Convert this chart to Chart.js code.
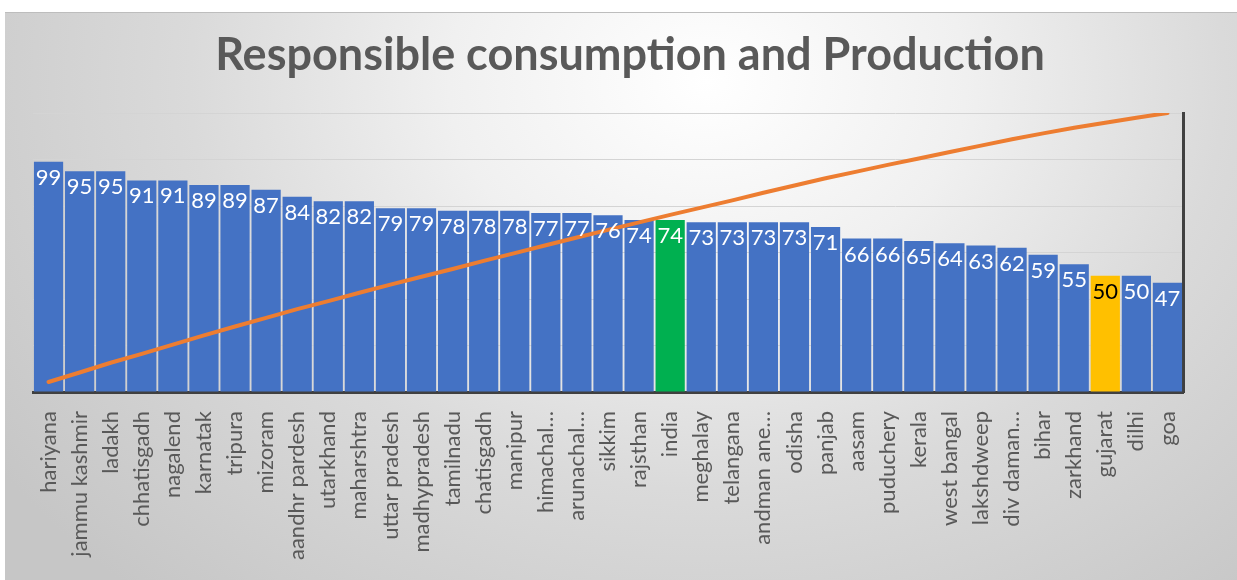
<!DOCTYPE html>
<html>
<head>
<meta charset="utf-8">
<script src="https://cdn.jsdelivr.net/npm/chart.js@4.4.1/dist/chart.umd.min.js"></script>
<style>
  html, body { margin: 0; padding: 0; background: #ffffff; width: 1237px; height: 580px; overflow: hidden; }
  #wrap {
    position: absolute; left: 5px; top: 12px; width: 1232px; height: 568px;
    border-top: 1px solid #bdbdbd;
    background: radial-gradient(ellipse 70% 120% at 57% 12%, #ffffff 0%, #f0f0f0 30%, #dadada 60%, #c6c6c6 100%);
  }
  canvas { display: block; }
</style>
</head>
<body>
<div id="wrap"><canvas id="c"></canvas></div>
<script>
const categories = [
  "hariyana", "jammu kashmir", "ladakh", "chhatisgadh", "nagalend", "karnatak", "tripura",
  "mizoram", "aandhr pardesh", "utarkhand", "maharshtra", "uttar pradesh", "madhypradesh",
  "tamilnadu", "chatisgadh", "manipur", "himachal…", "arunachal…", "sikkim", "rajsthan",
  "india", "meghalay", "telangana", "andman ane…", "odisha", "panjab", "aasam", "puduchery",
  "kerala", "west bangal", "lakshdweep", "div daman…", "bihar", "zarkhand", "gujarat",
  "dilhi", "goa"
];
const scores = [
  99, 95, 95, 91, 91, 89, 89, 87, 84, 82, 82, 79, 79, 78, 78, 78, 77, 77, 76, 74,
  74, 73, 73, 73, 73, 71, 66, 66, 65, 64, 63, 62, 59, 55, 50, 50, 47
];
const cumulativePct = [
  3.6, 7.0, 10.5, 13.7, 17.0, 20.3, 23.5, 26.6, 29.7, 32.6, 35.6, 38.5, 41.3, 44.1,
  47.0, 49.8, 52.6, 55.4, 58.1, 60.8, 63.5, 66.1, 68.7, 71.4, 74.0, 76.6, 79.0, 81.4,
  83.7, 86.0, 88.3, 90.6, 92.7, 94.7, 96.5, 98.3, 100
];
const yTicks = [0, 20, 40, 60, 80, 100, 120];

const BLUE = '#4472C4', GREEN = '#00B050', GOLD = '#FFC000';
const highlight = { "india": GREEN, "gujarat": GOLD };
const barColors = categories.map(c => highlight[c] || BLUE);

const FONT = "Lato, 'Open Sans', sans-serif";

const valueLabels = {
  id: 'valueLabels',
  afterDatasetsDraw(chart) {
    const idx = chart.data.datasets.findIndex(d => d.type === 'bar');
    const meta = chart.getDatasetMeta(idx);
    const ctx = chart.ctx;
    ctx.save();
    ctx.font = "22px " + FONT;
    ctx.textAlign = 'center';
    ctx.textBaseline = 'alphabetic';
    meta.data.forEach((bar, i) => {
      ctx.fillStyle = categories[i] === 'gujarat' ? '#000000' : '#ffffff';
      ctx.fillText(String(scores[i]), bar.x, bar.y + 23);
    });
    ctx.restore();
  }
};

new Chart(document.getElementById('c'), {
  data: {
    labels: categories,
    datasets: [
      {
        type: 'line',
        label: 'cumulative',
        data: cumulativePct,
        yAxisID: 'y1',
        borderColor: '#ED7D31',
        borderWidth: 4,
        pointRadius: 0,
        tension: 0,
        borderCapStyle: 'round',
        borderJoinStyle: 'round',
        order: 0
      },
      {
        type: 'bar',
        label: 'score',
        data: scores,
        yAxisID: 'y',
        backgroundColor: barColors,
        borderWidth: 0,
        barPercentage: 0.94,
        categoryPercentage: 1.0,
        order: 1
      }
    ]
  },
  options: {
    responsive: true,
    maintainAspectRatio: false,
    animation: false,
    layout: { padding: { left: 18, right: 0, top: 0, bottom: 2 } },
    plugins: {
      legend: { display: false },
      tooltip: { enabled: false },
      title: {
        display: true,
        text: 'Responsible consumption and Production',
        color: '#595959',
        font: { family: FONT, size: 45, weight: 'bold' },
        padding: { top: 15, bottom: 31 }
      }
    },
    scales: {
      x: {
        grid: { display: false, drawTicks: false },
        border: { display: true, color: '#404040', width: 3 },
        ticks: {
          autoSkip: false,
          minRotation: 90,
          maxRotation: 90,
          padding: 19,
          color: '#595959',
          font: { family: FONT, size: 22 }
        }
      },
      y: {
        min: 0, max: 120,
        afterBuildTicks(scale) { scale.ticks = yTicks.map(v => ({ value: v })); },
        afterFit(scale) { scale.width = 10; },
        grid: { color: '#d4d4d4', lineWidth: 1, drawTicks: false },
        border: { display: false },
        ticks: { display: false }
      },
      y1: {
        position: 'right',
        min: 0, max: 100,
        afterFit(scale) { scale.width = 54; },
        grid: { drawOnChartArea: false, drawTicks: false },
        border: { display: true, color: '#404040', width: 3 },
        ticks: { display: false }
      }
    }
  },
  plugins: [valueLabels]
});
</script>
</body>
</html>
